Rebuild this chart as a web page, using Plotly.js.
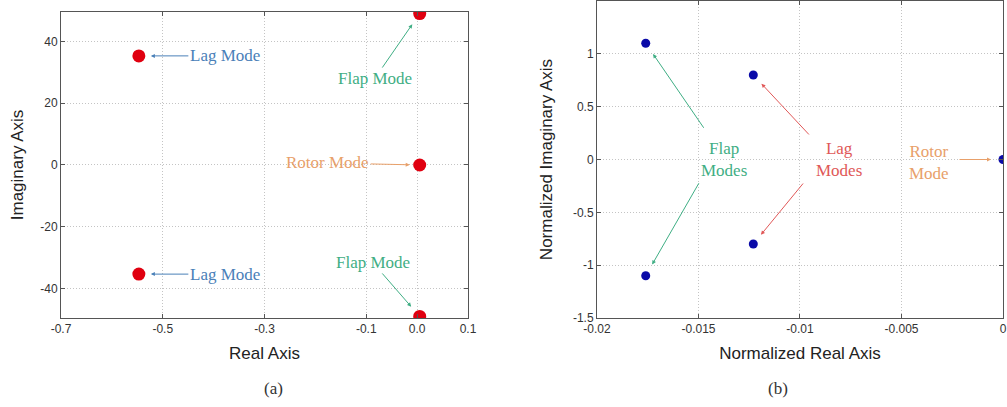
<!DOCTYPE html>
<html>
<head>
<meta charset="utf-8">
<script src="https://cdn.plot.ly/plotly-3.0.1.min.js"></script>
<style>html,body{margin:0;padding:0;background:#fff;}#chart{width:1007px;height:407px;}</style>
</head>
<body>
<div id="chart"></div>
<script>
// (a) poles, real and imaginary parts
const realA = [-0.547, -0.547, 0.005, 0.005, 0.005];
const imagA = [35.3, -35.3, 49.0, 0.0, -49.0];
const modeA = ["Lag Mode", "Lag Mode", "Flap Mode", "Rotor Mode", "Flap Mode"];
const xTicksA = [-0.7, -0.5, -0.3, -0.1, 0.0, 0.1];
const xTickTextA = ["-0.7", "-0.5", "-0.3", "-0.1", "0.0", "0.1"];
const yTicksA = [40, 20, 0, -20, -40];
const yTickTextA = ["40", "20", "0", "-20", "-40"];

// (b) normalized poles
const realB = [-0.0176, -0.0176, -0.0123, -0.0123, 0.0];
const imagB = [1.1, -1.1, 0.8, -0.8, 0.0];
const xTicksB = [-0.02, -0.015, -0.01, -0.005, 0];
const xTickTextB = ["-0.02", "-0.015", "-0.01", "-0.005", "0"];
const yTicksB = [1.5, 1, 0.5, 0, -0.5, -1, -1.5];
const yTickTextB = ["1.5", "1", "0.5", "0", "-0.5", "-1", "-1.5"];

const cLag = "#4a80b8", cFlap = "#3fae84", cRotor = "#e8a06a", cLagB = "#e05858";
const serif = "Liberation Serif, Times New Roman, serif";
const sans = "Liberation Sans, Arial, sans-serif";

const traces = [
  {x: realA, y: imagA, type: "scatter", mode: "markers", xaxis: "x", yaxis: "y",
   marker: {color: "#e00010", size: 13}, hoverinfo: "skip"},
  {x: realB, y: imagB, type: "scatter", mode: "markers", xaxis: "x2", yaxis: "y2",
   marker: {color: "#0a0aa8", size: 9}, hoverinfo: "skip"}
];

const axBase = {
  showline: true, linecolor: "#555", linewidth: 1, mirror: "ticks",
  ticks: "inside", ticklen: 4, tickcolor: "#555",
  showgrid: true, gridcolor: "#c4c4c4", griddash: "1px,2px", gridwidth: 1,
  zeroline: false, tickfont: {family: sans, size: 12, color: "#333"},
  tickmode: "array", automargin: false, fixedrange: true
};
const titleFont = {family: sans, size: 17, color: "#222"};

function arrowAnn(xr, yr, px, py, text, color, ax, ay, standoff) {
  return {xref: xr, yref: yr, x: px, y: py, text: text, showarrow: true,
    ax: ax, ay: ay, arrowhead: 2, arrowsize: 0.8, arrowwidth: 1, arrowcolor: color,
    standoff: standoff, font: {family: serif, size: 17, color: color}};
}

const ann = [];
// (a)
ann.push(arrowAnn("x", "y", realA[0], imagA[0], modeA[0], cLag, 86, 0, 12));
ann.push(arrowAnn("x", "y", realA[1], imagA[1], modeA[1], cLag, 86, 0, 12));
ann.push(arrowAnn("x", "y", realA[2], imagA[2], modeA[2], cFlap, -45, 65, 13));
ann.push(arrowAnn("x", "y", realA[3], imagA[3], modeA[3], cRotor, -92, -2, 10));
ann.push(arrowAnn("x", "y", realA[4], imagA[4], modeA[4], cFlap, -47, -54, 13));
// (b) arrows only
ann.push(arrowAnn("x2", "y2", realB[0], imagB[0], "", cFlap, 59, 86, 13));
ann.push(arrowAnn("x2", "y2", realB[1], imagB[1], "", cFlap, 54, -94, 13));
ann.push(arrowAnn("x2", "y2", realB[2], imagB[2], "", cLagB, 57, 61, 12));
ann.push(arrowAnn("x2", "y2", realB[3], imagB[3], "", cLagB, 51, -62, 12));
ann.push(arrowAnn("x2", "y2", realB[4], imagB[4], "", cRotor, -45, 0, 12));
// (b) labels
ann.push({xref: "x2", yref: "y2", x: -0.01372, y: 0.0, text: "Flap<br>Modes", showarrow: false,
  font: {family: serif, size: 17, color: cFlap}});
ann.push({xref: "x2", yref: "y2", x: -0.00808, y: 0.0, text: "Lag<br>Modes", showarrow: false,
  font: {family: serif, size: 17, color: cLagB}});
ann.push({xref: "x2", yref: "y2", x: -0.00365, y: -0.03, text: "Rotor<br>Mode", showarrow: false,
  font: {family: serif, size: 17, color: cRotor}});
// captions
ann.push({xref: "paper", yref: "paper", x: (262 - 61) / 942, y: -0.221, yanchor: "middle",
  text: "(a)", showarrow: false, font: {family: serif, size: 17, color: "#333"}});
ann.push({xref: "paper", yref: "paper", x: (790 - 61) / 942, y: -0.221, yanchor: "middle",
  text: "(b)", showarrow: false, font: {family: serif, size: 17, color: "#333"}});

const layout = {
  width: 1007, height: 407,
  margin: {l: 61, r: 4, t: 1, b: 89},
  paper_bgcolor: "#fff", plot_bgcolor: "#fff", showlegend: false,
  xaxis: Object.assign({}, axBase, {domain: [0, 0.4321], range: [-0.7, 0.1],
    tickvals: xTicksA, ticktext: xTickTextA, anchor: "y",
    title: {text: "Real Axis", font: titleFont, standoff: 11}}),
  yaxis: Object.assign({}, axBase, {domain: [0, 0.9653], range: [-49.5, 49.5],
    tickvals: yTicksA, ticktext: yTickTextA, anchor: "x",
    title: {text: "Imaginary Axis", font: titleFont, standoff: 12}}),
  xaxis2: Object.assign({}, axBase, {domain: [0.569, 1.0], range: [-0.02, 0],
    tickvals: xTicksB, ticktext: xTickTextB, anchor: "y2",
    title: {text: "Normalized Real Axis", font: titleFont, standoff: 11}}),
  yaxis2: Object.assign({}, axBase, {domain: [0, 1.0], range: [-1.5, 1.5],
    tickvals: yTicksB, ticktext: yTickTextB, anchor: "x2",
    title: {text: "Normalized Imaginary Axis", font: titleFont, standoff: 15}}),
  annotations: ann
};

Plotly.newPlot("chart", traces, layout, {displayModeBar: false, staticPlot: true});
</script>
</body>
</html>
